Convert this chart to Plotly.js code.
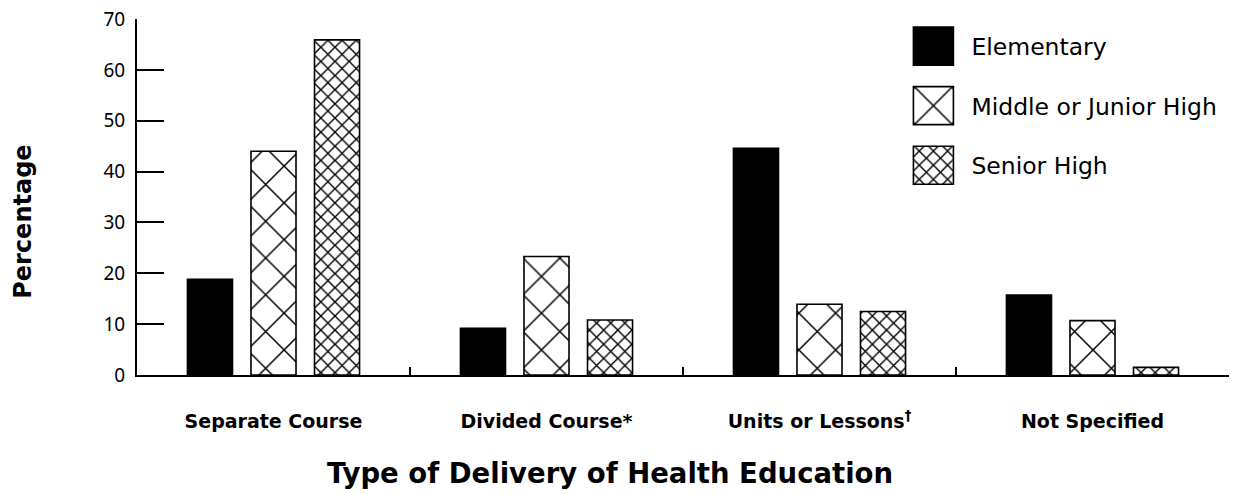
<!DOCTYPE html>
<html>
<head>
<meta charset="utf-8">
<script src="https://cdn.plot.ly/plotly-3.0.1.min.js"></script>
<style>
  html, body { margin: 0; padding: 0; background: #fff; }
  #chart { width: 1234px; height: 494px; }
</style>
</head>
<body>
<div id="chart"></div>
<script>
const categories = ["Separate Course", "Divided Course*", "Units or Lessons<sup>†</sup>", "Not Specified"];
const elementary = [18.8, 9.2, 44.6, 15.7];
const middleJunior = [44.0, 23.3, 13.9, 10.7];
const seniorHigh = [65.9, 10.8, 12.5, 1.5];
const seriesNames = ["Elementary", "Middle or Junior High", "Senior High"];
const yTicks = [0, 10, 20, 30, 40, 50, 60, 70];

const lineStyle = { color: "#000", width: 1.6 };

const traces = [
  {
    type: "bar", name: seriesNames[0], x: categories, y: elementary,
    legendgroup: "a",
    marker: { color: "#000", line: lineStyle }
  },
  {
    type: "bar", name: seriesNames[1], x: categories, y: middleJunior,
    legendgroup: "b",
    marker: { color: "#fff", line: lineStyle,
      pattern: { shape: "x", size: 26, solidity: 0.11, fgcolor: "#000", fgopacity: 1, bgcolor: "#fff", fillmode: "replace" } }
  },
  {
    type: "bar", name: seriesNames[2], x: categories, y: seniorHigh,
    legendgroup: "c",
    marker: { color: "#fff", line: lineStyle,
      pattern: { shape: "x", size: 10, solidity: 0.26, fgcolor: "#000", fgopacity: 1, bgcolor: "#fff", fillmode: "replace" } }
  }
];

const layout = {
  width: 1234, height: 494,
  margin: { l: 137, r: 5, t: 19, b: 119 },
  paper_bgcolor: "#fff", plot_bgcolor: "#fff",
  font: { family: "DejaVu Sans, sans-serif", color: "#000" },
  barmode: "group",
  bargap: 0.302,
  bargroupgap: 0.291,
  showlegend: true,
  legend: {
    x: 0.711, y: 0.985, xanchor: "left", yanchor: "top",
    font: { size: 23.5, family: "DejaVu Sans, sans-serif", color: "#000" },
    tracegroupgap: 26,
    bgcolor: "rgba(0,0,0,0)"
  },
  xaxis: {
    type: "category",
    showline: true, linecolor: "#000", linewidth: 2,
    ticks: "inside", tickson: "boundaries", ticklen: 8, tickwidth: 2, tickcolor: "#000",
    tickfont: { size: 19, family: "DejaVu Sans, sans-serif", weight: "bold", color: "#000" },
    ticklabelstandoff: 28,
    showgrid: false, zeroline: false, fixedrange: true
  },
  yaxis: {
    range: [0, 70], tickvals: yTicks,
    showline: true, linecolor: "#000", linewidth: 2,
    ticks: "inside", ticklen: 27, tickwidth: 2, tickcolor: "#000",
    tickfont: { size: 19, family: "Noto Sans, sans-serif", color: "#000" },
    ticklabelstandoff: 6,
    showgrid: false, zeroline: false, fixedrange: true
  },
  annotations: [
    {
      text: "<b>Percentage</b>", textangle: -90,
      xref: "paper", yref: "paper", x: -0.1045, y: 0.43,
      xanchor: "center", yanchor: "middle", showarrow: false,
      font: { size: 24, family: "DejaVu Sans, sans-serif", color: "#000" }
    },
    {
      text: "<b>Type of Delivery of Health Education</b>",
      xref: "paper", yref: "paper", x: 0.4332, y: -0.275,
      xanchor: "center", yanchor: "middle", showarrow: false,
      font: { size: 27.5, family: "DejaVu Sans, sans-serif", color: "#000" }
    }
  ]
};

Plotly.newPlot("chart", traces, layout, { displayModeBar: false, staticPlot: true }).then(function (gd) {
  // enlarge the legend swatches to match the reference's large boxes
  gd.querySelectorAll(".legend .scrollbox").forEach(function (s) { s.removeAttribute("clip-path"); });
  const barTraces = gd.querySelectorAll(".barlayer .trace");
  gd.querySelectorAll(".legend .traces").forEach(function (t, i) {
    t.querySelectorAll(".legendpoints path").forEach(function (p) {
      p.setAttribute("d", "M20,19H-20V-19H20Z");
      p.setAttribute("transform", "translate(20,0)");
      p.style.strokeWidth = "1.6px";
      const src = barTraces[i] ? barTraces[i].querySelector(".point path") : null;
      if (src && src.style.fill) p.style.fill = src.style.fill;
    });
    const txt = t.querySelector(".legendtext");
    if (txt) txt.setAttribute("x", 58);
  });
});
</script>
</body>
</html>
